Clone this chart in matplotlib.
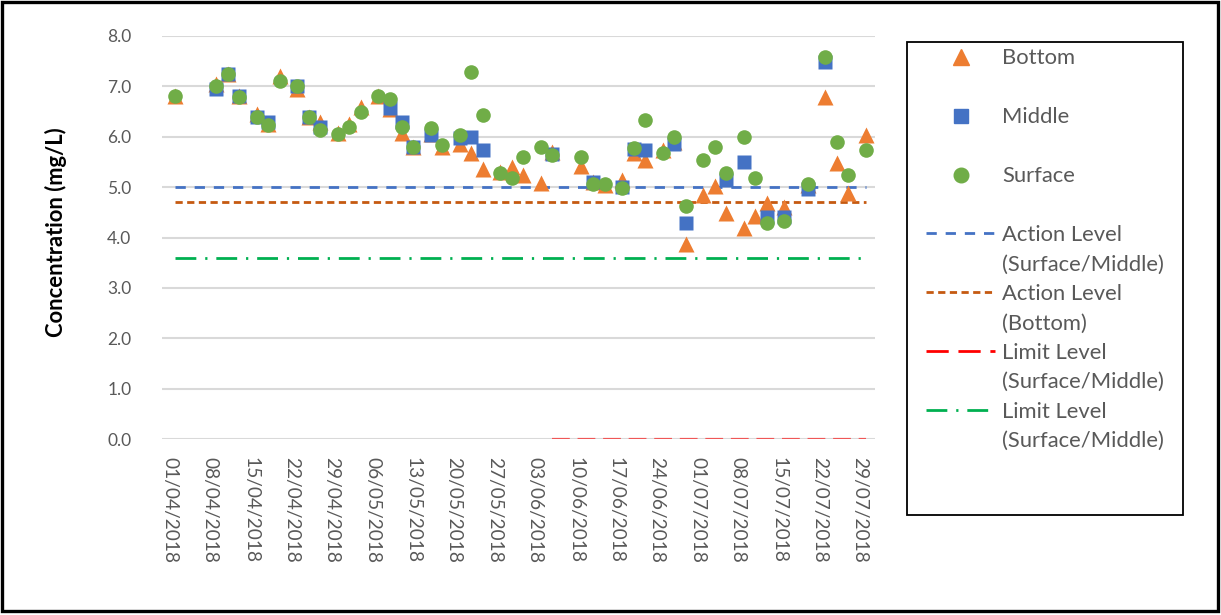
import numpy as np
import pandas as pd
import matplotlib
matplotlib.use("Agg")
import matplotlib.pyplot as plt
import matplotlib.dates as mdates
from matplotlib.lines import Line2D
from matplotlib.patches import Rectangle

plt.rcParams['font.family'] = ['Lato', 'DejaVu Sans']

# sampling dates
dates = ['02/04/2018', '09/04/2018', '11/04/2018', '13/04/2018', '16/04/2018',
         '18/04/2018', '20/04/2018', '23/04/2018', '25/04/2018', '27/04/2018',
         '30/04/2018', '02/05/2018', '04/05/2018', '07/05/2018', '09/05/2018',
         '11/05/2018', '13/05/2018', '16/05/2018', '18/05/2018', '21/05/2018',
         '23/05/2018', '25/05/2018', '28/05/2018', '30/05/2018', '01/06/2018',
         '04/06/2018', '06/06/2018', '11/06/2018', '13/06/2018', '15/06/2018',
         '18/06/2018', '20/06/2018', '22/06/2018', '25/06/2018', '27/06/2018',
         '29/06/2018', '02/07/2018', '04/07/2018', '06/07/2018', '09/07/2018',
         '11/07/2018', '13/07/2018', '16/07/2018', '20/07/2018', '23/07/2018',
         '25/07/2018', '27/07/2018', '30/07/2018']

nan = np.nan
bottom = [6.8, 7.05, 7.25, 6.8, 6.45, 6.25, 7.2, 6.95, 6.4, 6.3,
          6.07, 6.25, 6.6, 6.8, 6.55, 6.07, 5.8, 6.05, 5.8, 5.85,
          5.67, 5.35, 5.3, 5.4, 5.25, 5.08, 5.7, 5.42, 5.1, 5.05,
          5.15, 5.68, 5.54, 5.73, 5.9, 3.88, 4.84, 5.03, 4.48, 4.18,
          4.42, 4.68, 4.61, 5.05, 6.78, 5.47, 4.89, 6.03]
middle = [nan, 6.95, 7.25, 6.8, 6.4, 6.3, nan, 7.0, 6.4, 6.2,
          nan, nan, nan, nan, 6.58, 6.3, 5.8, 6.03, nan, 5.97,
          5.99, 5.73, nan, nan, nan, nan, 5.65, nan, 5.1, nan,
          5.0, 5.75, 5.74, nan, 5.85, 4.28, nan, nan, 5.15, 5.49,
          nan, 4.41, 4.4, 4.97, 7.49, nan, nan, nan]
surface = [6.8, 7.0, 7.24, 6.79, 6.4, 6.24, 7.1, 7.0, 6.4, 6.13,
           6.05, 6.2, 6.5, 6.8, 6.74, 6.2, 5.79, 6.18, 5.83, 6.03,
           7.29, 6.43, 5.28, 5.19, 5.59, 5.8, 5.63, 5.59, 5.07, 5.07,
           4.99, 5.77, 6.34, 5.67, 5.99, 4.63, 5.54, 5.79, 5.29, 5.99,
           5.19, 4.29, 4.33, 5.07, 7.59, 5.89, 5.24, 5.73]

action_sm = [5.0] * len(dates)
action_bottom = [4.7] * len(dates)
limit_sm = [nan] * 26 + [0.0] * 22
limit_sm2 = [3.6] * len(dates)

tick_dates = ['01/04/2018', '08/04/2018', '15/04/2018', '22/04/2018', '29/04/2018',
              '06/05/2018', '13/05/2018', '20/05/2018', '27/05/2018', '03/06/2018',
              '10/06/2018', '17/06/2018', '24/06/2018', '01/07/2018', '08/07/2018',
              '15/07/2018', '22/07/2018', '29/07/2018']

x = pd.to_datetime(dates, format='%d/%m/%Y')
xt = pd.to_datetime(tick_dates, format='%d/%m/%Y')

c_bottom = '#ED7D31'
c_middle = '#4472C4'
c_surface = '#70AD47'

fig = plt.figure(figsize=(12.21, 6.15), dpi=100)
ax = fig.add_axes([162 / 1221, 1 - 439 / 615, 713 / 1221, 403 / 615])

ax.plot(x, action_sm, color='#4472C4', lw=2, dashes=(3.7, 3.2))
ax.plot(x, action_bottom, color='#C55A11', lw=2, dashes=(2.6, 1.6))
ax.plot(x, limit_sm, color='#FF0000', lw=1.6, dashes=(8, 3.5), alpha=0.6)
ax.plot(x, limit_sm2, color='#00B050', lw=2, dashes=(7.5, 3.2, 0.8, 3.2))

ax.plot(x, bottom, ls='none', marker='^', ms=11, color=c_bottom, mec='none')
ax.plot(x, middle, ls='none', marker='s', ms=10, color=c_middle, mec='none')
ax.plot(x, surface, ls='none', marker='o', ms=10.5, color=c_surface, mec='none')

ax.set_ylim(0, 8)
ax.set_yticks(np.arange(0, 8.1, 1.0))
ax.yaxis.set_major_formatter(matplotlib.ticker.FormatStrFormatter('%.1f'))
ax.set_xlim(pd.Timestamp('2018-04-01') - pd.Timedelta(days=1.3),
            pd.Timestamp('2018-07-29') + pd.Timedelta(days=2.6))
ax.set_xticks(xt)
ax.xaxis.set_major_formatter(mdates.DateFormatter('%d/%m/%Y'))
ax.tick_params(axis='x', length=0, pad=13, labelsize=13.8, labelcolor='#595959',
               labelrotation=-90)
ax.tick_params(axis='y', length=0, pad=22, labelsize=12.5, labelcolor='#595959')
ax.grid(axis='y', color='#D9D9D9', lw=1.5)
ax.set_axisbelow(True)
for s in ax.spines.values():
    s.set_visible(False)

# y title, centred where the original has it
ax.text((56 - 162) / 713, (439 - 232) / 403, 'Concentration (mg/L)',
        transform=ax.transAxes, rotation=90, ha='center', va='center',
        fontsize=15.8, fontweight='bold', color='black')

# legend (blank rows keep the two-line layout of the original)
blank = Line2D([], [], ls='none')
handles = [
    Line2D([], [], ls='none', marker='^', ms=11, color=c_bottom), blank,
    Line2D([], [], ls='none', marker='s', ms=10, color=c_middle), blank,
    Line2D([], [], ls='none', marker='o', ms=10.5, color=c_surface), blank,
    Line2D([], [], color='#4472C4', lw=2, dashes=(3.7, 3.2)), blank,
    Line2D([], [], color='#C55A11', lw=2, dashes=(2.6, 1.6)), blank,
    Line2D([], [], color='#FF0000', lw=2, dashes=(8, 3.5)), blank,
    Line2D([], [], color='#00B050', lw=2, dashes=(7.5, 3.2, 0.8, 3.2)), blank,
]
labels = ['Bottom', ' ', 'Middle', ' ', 'Surface', ' ',
          'Action Level', '(Surface/Middle)', 'Action Level', '(Bottom)',
          'Limit Level', '(Surface/Middle)', 'Limit Level', '(Surface/Middle)']
leg = fig.legend(handles, labels, loc='upper left',
                 bbox_to_anchor=(926 / 1221, 1 - 48.5 / 615),
                 frameon=False, fontsize=15.8, labelcolor='#595959',
                 handlelength=3.15, handletextpad=0.33, labelspacing=0.43,
                 borderaxespad=0, borderpad=0)

fig.patches.append(Rectangle((906.7 / 1221, 1 - 515 / 615), 276.3 / 1221, 473.3 / 615,
                             transform=fig.transFigure, fill=False, ec='black', lw=1.3))
fig.patches.append(Rectangle((1.5 / 1221, 4 / 615), 1216 / 1221, 609.5 / 615,
                             transform=fig.transFigure, fill=False, ec='black', lw=2.4))

fig.savefig('out.png', dpi=100)
